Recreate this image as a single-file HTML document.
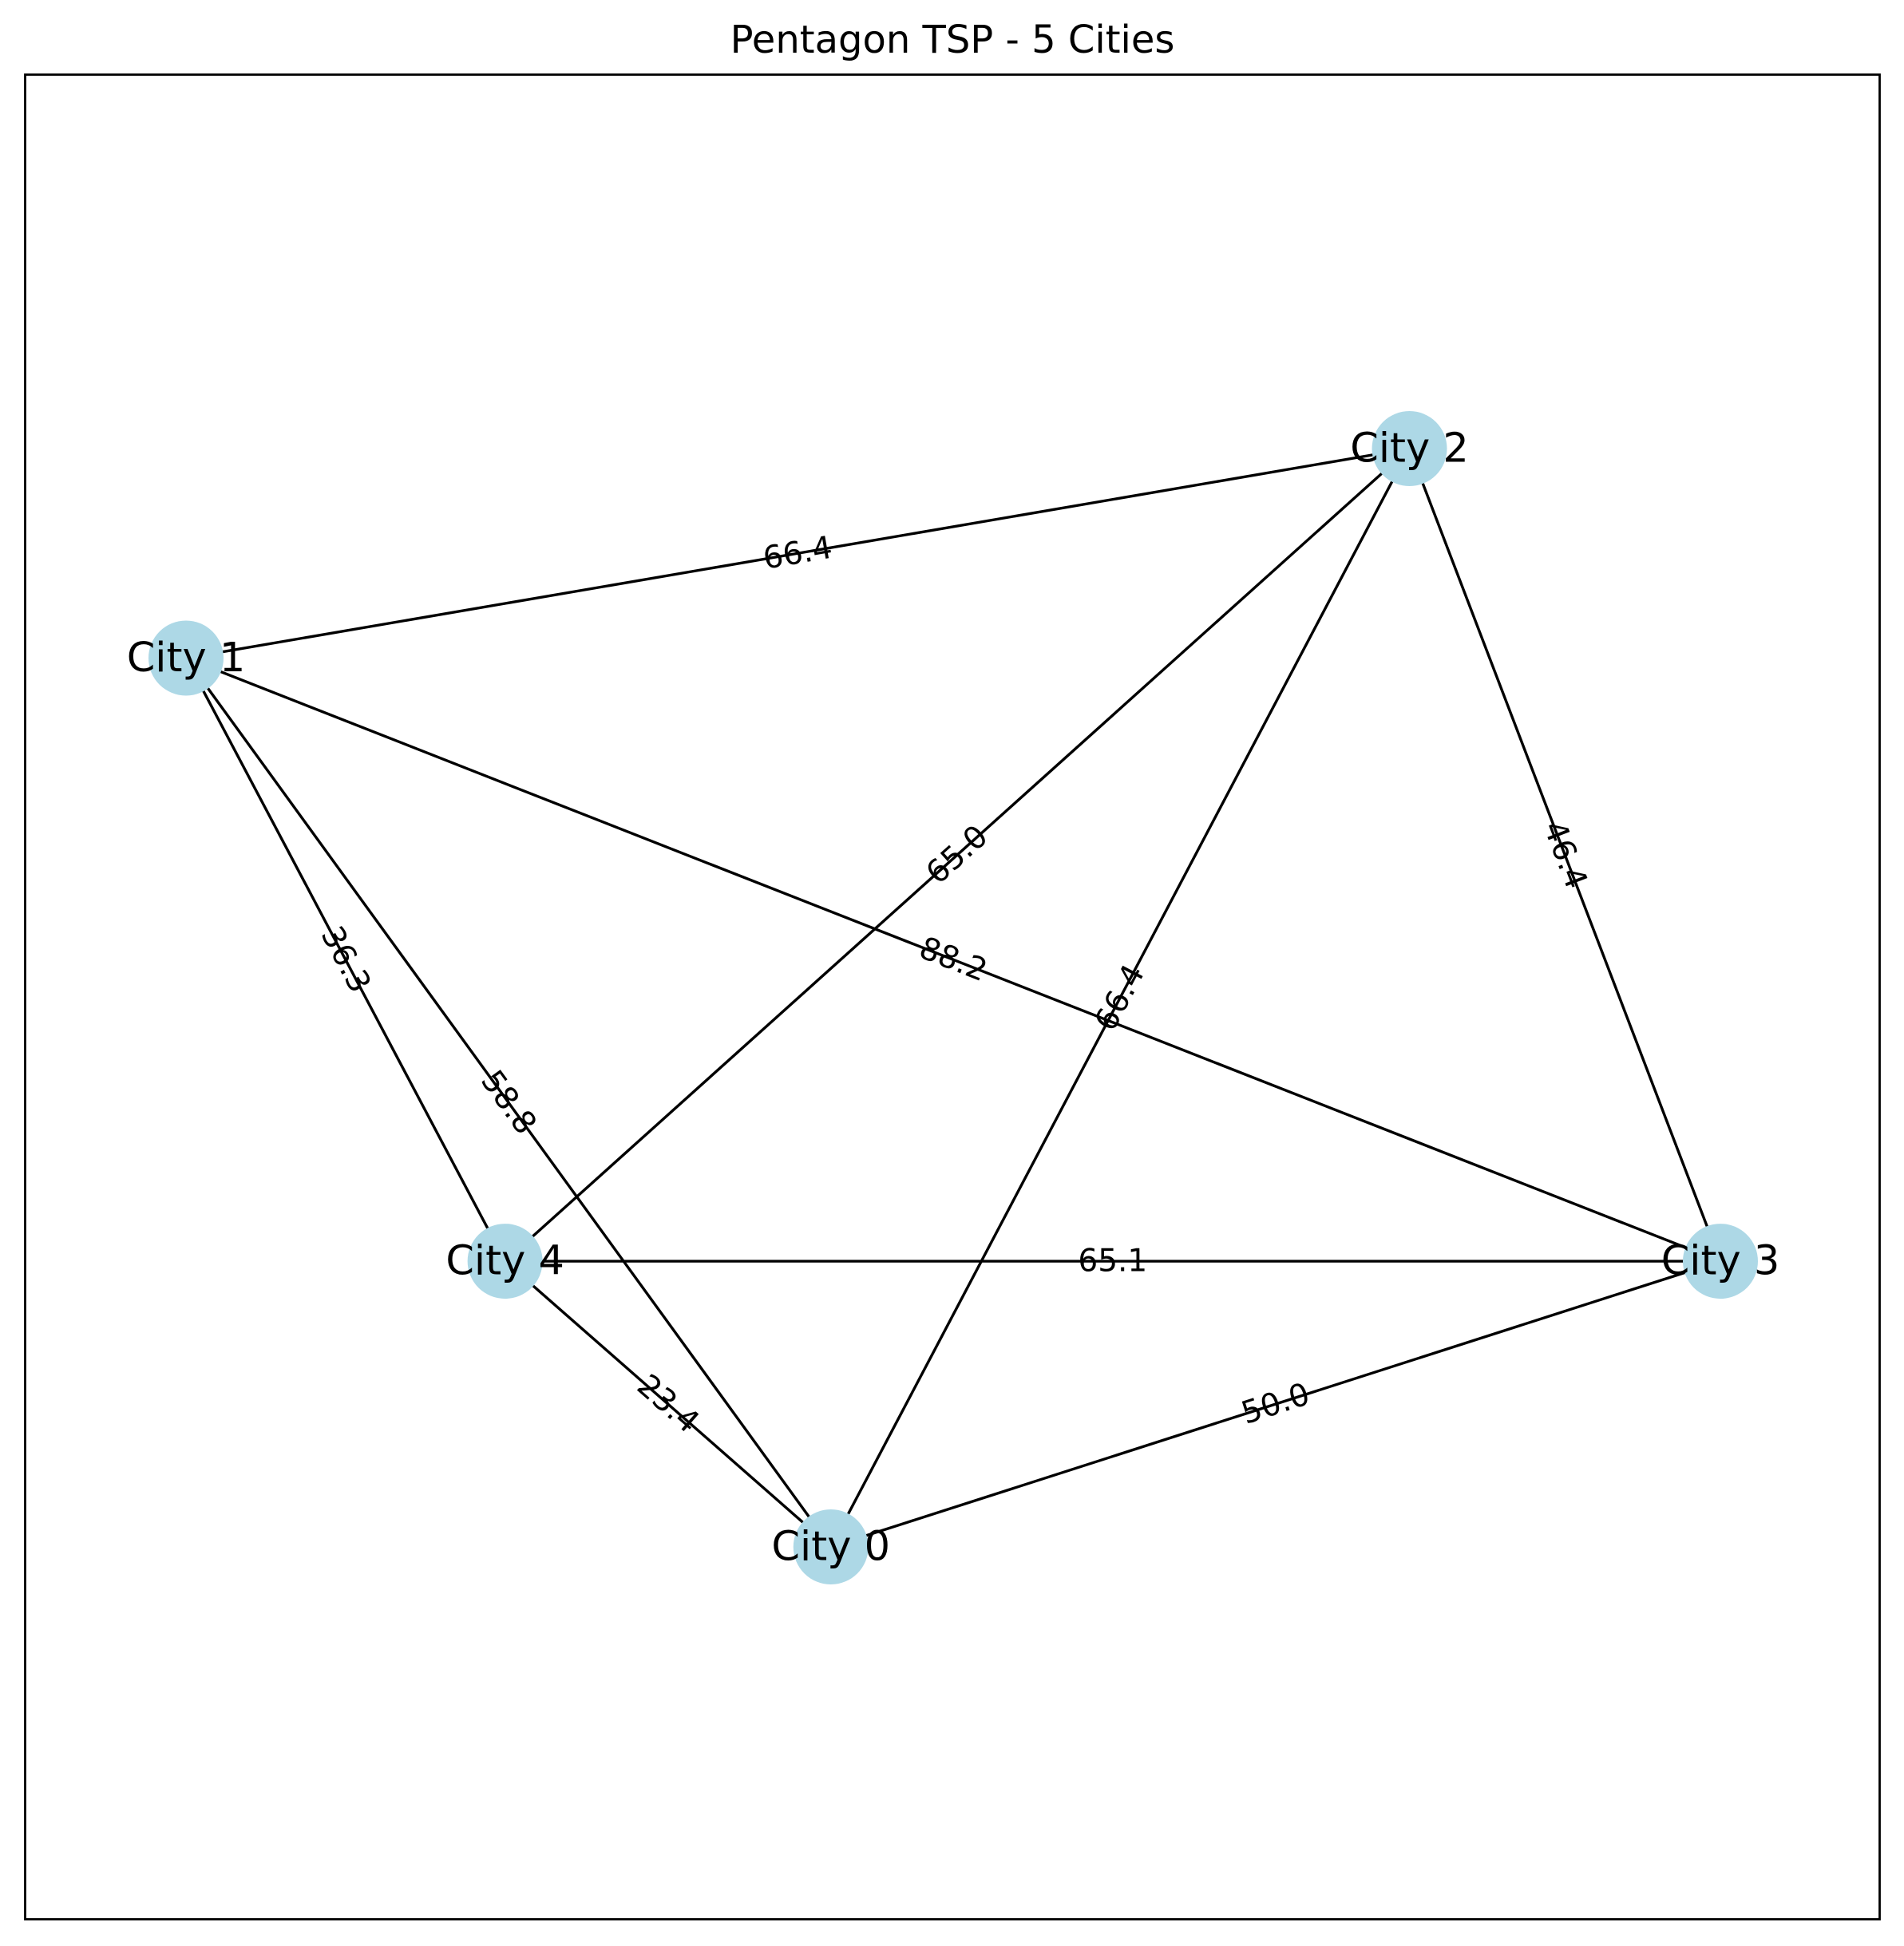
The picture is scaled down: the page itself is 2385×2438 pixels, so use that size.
<!DOCTYPE html>
<html><head><meta charset="utf-8"><style>
html,body{margin:0;padding:0;background:#fff;}
svg text{font-family:"DejaVu Sans","Liberation Sans",sans-serif;}
</style></head><body>
<svg id="chart" width="2385" height="2433" viewBox="0 0 2385 2433" xmlns="http://www.w3.org/2000/svg">
<rect x="0" y="0" width="2385" height="2433" fill="#fff"/>
<text x="1193" y="66" font-size="48" text-anchor="middle">Pentagon TSP - 5 Cities</text>
<rect x="31.5" y="93.5" width="2323" height="2311" fill="none" stroke="#000" stroke-width="2.8"/>
<g id="edges"></g><g id="elabels"></g><g id="nodes"></g>
</svg>
<script>
const cityNames = ["City 0","City 1","City 2","City 3","City 4"];
const cityX = [0.004, -0.95, 0.86, 1.32, -0.478];
const cityY = [-0.8, 0.6, 0.93, -0.35, -0.35];
const edgeFrom = [0,0,0,0,1,1,1,2,2,3];
const edgeTo   = [1,2,3,4,2,3,4,3,4,4];
const edgeWeights = ["58.8","66.4","50.0","23.4","66.4","88.2","36.3","46.4","65.0","65.1"];
// axis mapping
const x0=-0.95,x1=1.32,px0=233,px1=2155;
const y0=-0.8,y1=0.93,py0=1938,py1=562;
const sx=v=>px0+(v-x0)/(x1-x0)*(px1-px0);
const sy=v=>py0+(v-y0)/(y1-y0)*(py1-py0);
const NS="http://www.w3.org/2000/svg";
const E=document.getElementById('edges'),L=document.getElementById('elabels'),N=document.getElementById('nodes');
for(let i=0;i<edgeFrom.length;i++){
  const a=edgeFrom[i],b=edgeTo[i];
  const ax=sx(cityX[a]),ay=sy(cityY[a]),bx=sx(cityX[b]),by=sy(cityY[b]);
  const ln=document.createElementNS(NS,'line');
  ln.setAttribute('x1',ax);ln.setAttribute('y1',ay);ln.setAttribute('x2',bx);ln.setAttribute('y2',by);
  ln.setAttribute('stroke','#000');ln.setAttribute('stroke-width','3.4');
  
  
  E.appendChild(ln);
  const mx=(ax+bx)/2,my=(ay+by)/2;
  let ang=Math.atan2(by-ay,bx-ax)*180/Math.PI;
  if(ang>90)ang-=180; if(ang<-90)ang+=180;
  const t=document.createElementNS(NS,'text');
  t.setAttribute('x',mx);t.setAttribute('y',my);
  t.setAttribute('font-size','39');t.setAttribute('text-anchor','middle');t.setAttribute('dominant-baseline','central');
  t.setAttribute('transform','rotate('+ang+' '+mx+' '+my+')');
  t.textContent=edgeWeights[i];
  
  
  L.appendChild(t);
}
for(let i=0;i<cityNames.length;i++){
  const cx=sx(cityX[i]),cy=sy(cityY[i]);
  const c=document.createElementNS(NS,'circle');
  c.setAttribute('cx',cx);c.setAttribute('cy',cy);c.setAttribute('r','47');c.setAttribute('fill','#add8e6');
  
  
  N.appendChild(c);
  const t=document.createElementNS(NS,'text');
  t.setAttribute('x',cx);t.setAttribute('y',cy);t.setAttribute('font-size','51');
  t.setAttribute('text-anchor','middle');t.setAttribute('dominant-baseline','central');
  t.textContent=cityNames[i];
  
  
  N.appendChild(t);
}
</script>
</body></html>
